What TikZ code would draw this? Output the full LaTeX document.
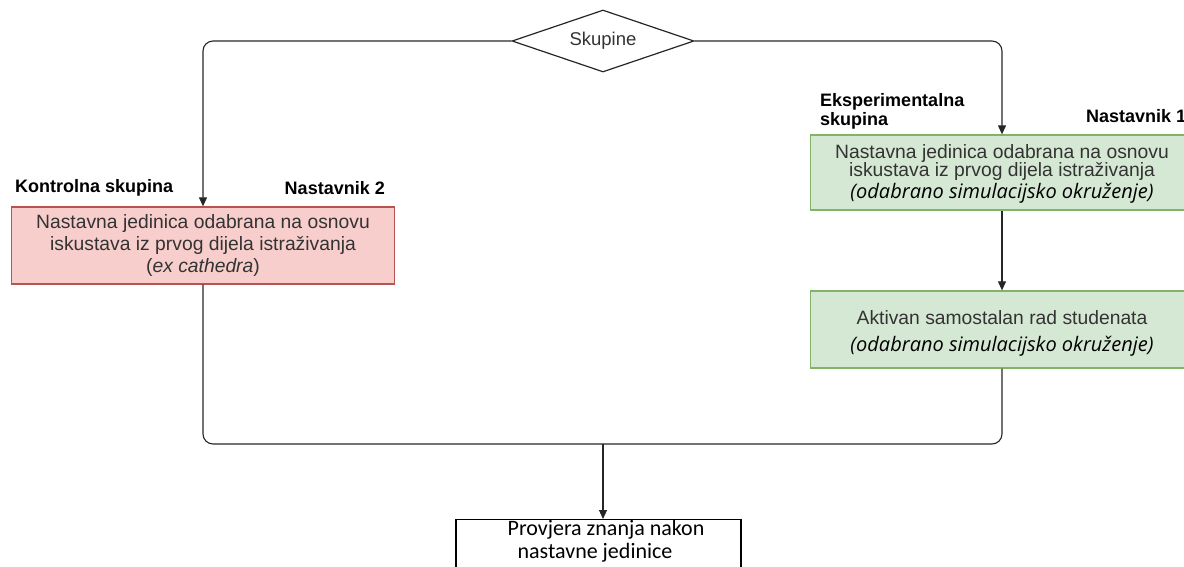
\documentclass[tikz,border=0pt]{standalone}
\usepackage{fontspec}
\setmainfont{Liberation Sans}
\newfontfamily\osit{Open Sans}
\newfontfamily\carl{Carlito}
\usetikzlibrary{shapes.geometric,arrows.meta}
\definecolor{gfill}{HTML}{D5E8D4}
\definecolor{gline}{HTML}{82B366}
\definecolor{rfill}{HTML}{F8CECC}
\definecolor{rline}{HTML}{B85450}
\definecolor{txt}{HTML}{333333}
\newcommand{\simtxt}{{\color{black}\osit\itshape\fontsize{20}{22}\selectfont (odabrano simulacijsko okruženje)}}
\begin{document}
\begin{tikzpicture}[x=1pt,y=-1pt,
  body/.style={font=\fontsize{19.3}{22}\selectfont, text=txt, align=center, inner sep=0pt},
  redbox/.style={body, draw=rline, fill=rfill, line width=1.3pt, minimum width=383pt, minimum height=77pt},
  greenbox/.style={draw=gline, fill=gfill, line width=1.3pt, minimum width=383pt, inner sep=0pt},
  endbox/.style={draw=black, line width=1.3pt, minimum width=285pt, minimum height=80pt, inner sep=0pt},
  dia/.style={diamond, aspect=3, draw=black!85, line width=1.2pt, minimum width=182pt, minimum height=62pt, inner sep=0pt, font=\fontsize{18.5}{22}\selectfont, text=txt},
  lbl/.style={font=\bfseries\fontsize{18}{19}\selectfont, inner sep=0pt},
  line/.style={draw=black!85, line width=1.1pt},
  conn/.style={line, -{Triangle[length=9pt,width=8pt]}}
]
\useasboundingbox (0,0) rectangle (1184,566);
\node[dia] (d) at (603,41) {Skupine};
\node[redbox] (k) at (203,245.5) {Nastavna jedinica odabrana na osnovu\\iskustava iz prvog dijela istraživanja\\(\textit{ex cathedra})};
\node[greenbox, minimum height=75pt] (e1) at (1002,172.5) {};
\node[body] (e1t) at (1002,174) {Nastavna jedinica odabrana na osnovu\\[-4pt]iskustava iz prvog dijela istraživanja\\\simtxt};
\node[greenbox, minimum height=77pt] (e2) at (1002,329.5) {};
\node[body] (e2t) at (1002,333.5) {Aktivan samostalan rad studenata\\[5pt]\simtxt};
\node[endbox, anchor=north] (p) at (598.5,519) {};
\node[font=\carl\fontsize{22}{23}\selectfont, align=center, anchor=north, inner sep=0pt] (pt) at (606,520) {Provjera znanja nakon\\\hspace*{-22pt}nastavne jedinice};
\node[lbl, anchor=west] (lk) at (15,188) {Kontrolna skupina};
\node[lbl, anchor=east] (ln2) at (385,188) {Nastavnik 2};
\node[lbl, anchor=west, align=left, font=\bfseries\fontsize{18}{19}\selectfont] (le) at (820,111.5) {Eksperimentalna\\skupina};
\node[lbl, anchor=west] (ln1) at (1086,116) {Nastavnik 1};
\draw[conn, rounded corners=10pt] (d.west) -| (k.north);
\draw[conn, rounded corners=10pt] (d.east) -| (e1.north);
\draw[conn] (e1.south) -- (e2.north);
\coordinate (m) at (603,444);
\draw[line, rounded corners=10pt] (k.south) |- (m) -| (e2.south);
\draw[conn] (m) -- (m |- p.north);
\end{tikzpicture}
\end{document}
